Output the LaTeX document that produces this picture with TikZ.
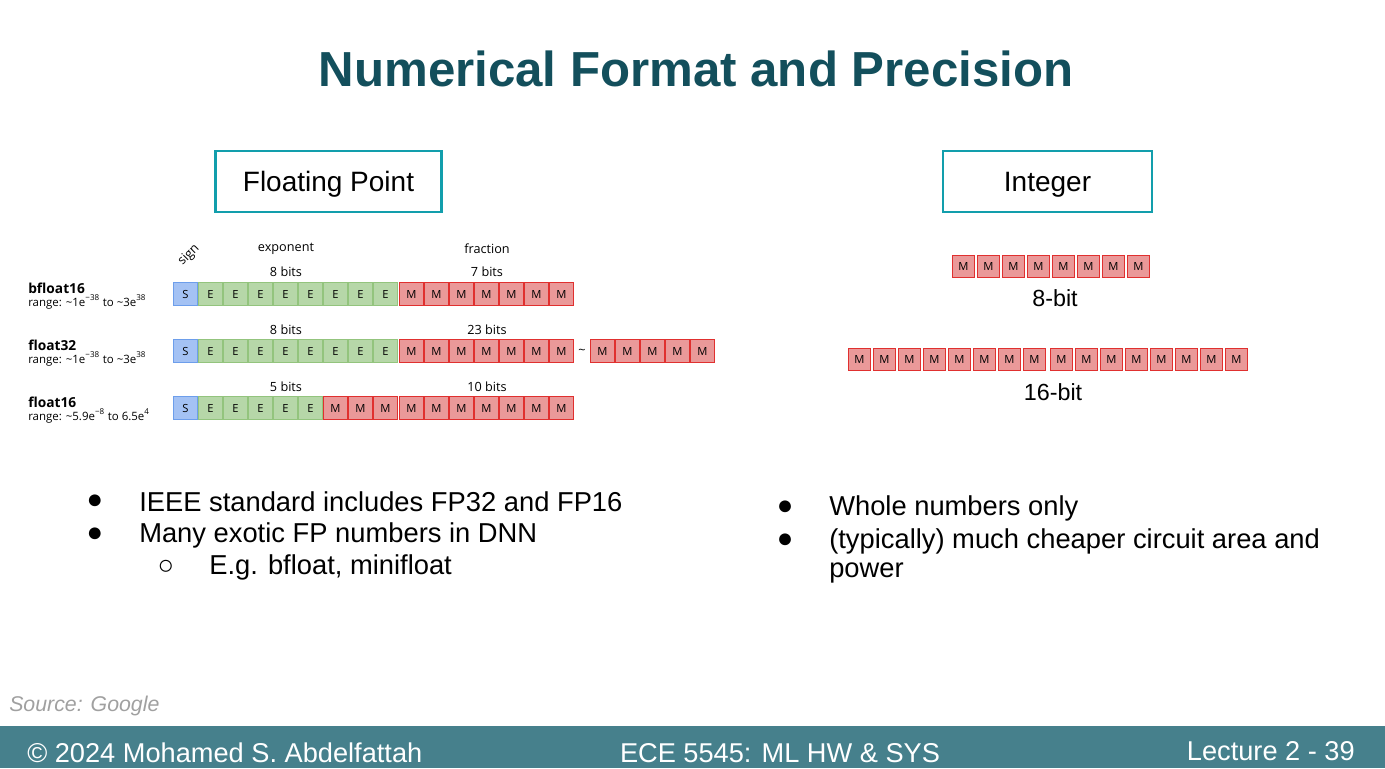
\documentclass[tikz,border=0pt]{standalone}
\usepackage{fontspec}
\setmainfont{Liberation Sans}
\newfontfamily\gsans{Open Sans}
\usetikzlibrary{positioning}
\definecolor{slidetitle}{HTML}{134F5C}
\definecolor{slideframe}{HTML}{129EAC}
\definecolor{slidebar}{HTML}{46808C}
\definecolor{slidesource}{HTML}{A0A0A0}
\definecolor{signfill}{HTML}{A4C2F4}
\definecolor{signline}{HTML}{6D9EEB}
\definecolor{expfill}{HTML}{B6D7A8}
\definecolor{expline}{HTML}{93C47D}
\definecolor{manfill}{HTML}{EA9999}
\definecolor{manline}{HTML}{E0302F}
\newcommand{\bitsup}[1]{\textsuperscript{#1}}
\newcommand{\bitneg}{\char"2212\relax}

\begin{document}
\begin{tikzpicture}[
  x=0.75pt,
  y=-0.75pt,
  every node/.style={inner sep=0pt},
  titletext/.style={font=\fontsize{36.9}{40}\selectfont\bfseries, slidetitle},
  headbox/.style={draw=slideframe, line width=2.2pt, font=\fontsize{21}{24}\selectfont,
    minimum height=45.75pt, text height=15pt, text depth=0pt},
  bitbox/.style={minimum width=17.5pt, minimum height=17.5pt, line width=0.6pt,
    font=\gsans\fontsize{8.4}{9}\selectfont},
  sbit/.style={bitbox, draw=signline, fill=signfill},
  ebit/.style={bitbox, draw=expline, fill=expfill},
  mbit/.style={bitbox, draw=manline, fill=manfill},
  ibit/.style={mbit, minimum width=17pt, minimum height=16.5pt},
  fieldtext/.style={font=\gsans\fontsize{9.5}{11}\selectfont},
  fmtname/.style={anchor=west, font=\gsans\bfseries\fontsize{10.3}{12}\selectfont},
  fmtrange/.style={anchor=west, font=\gsans\fontsize{8.6}{10}\selectfont},
  widthtext/.style={font=\fontsize{17.5}{20}\selectfont},
  bullet/.style={font=\fontsize{20.5}{24}\selectfont},
  itemtext/.style={anchor=west, font=\fontsize{20.5}{24}\selectfont},
  foottext/.style={white, font=\fontsize{20.4}{24}\selectfont}
]
  \useasboundingbox (0,0) rectangle (1385,768);

  % ---- title -----------------------------------------------------------
  \node[titletext] (title) at (696,69) {Numerical Format and Precision};

  % ---- the two headings ------------------------------------------------
  \node[headbox, minimum width=170pt] (fphead) at (328.5,181.5) {Floating Point};
  \node[headbox, minimum width=156.75pt] (inthead) at (1047.5,181.5) {Integer};

  % ---- field captions --------------------------------------------------
  \node[fieldtext, rotate=45] (signcap) at (189,255) {sign};
  \node[fieldtext] (expcap) at (286,249) {exponent};
  \node[fieldtext] (fraccap) at (487,249) {fraction};

  % ---- bfloat16 --------------------------------------------------------
  \node[fmtname] (bfname) at (28,288) {bfloat16};
  \node[fmtrange] (bfrange) at (28,302)
    {range: \textasciitilde1e\bitsup{\bitneg38} to \textasciitilde3e\bitsup{38}};
  \node[fieldtext] (bfexpw) at (286,272) {8 bits};
  \node[fieldtext] (bffracw) at (487,272) {7 bits};
  \node[sbit] (bf-s) at (185.5,294) {S};
  \foreach \i in {1,...,8}
    \node[ebit] (bf-e\i) at ({185.5+25*\i},294) {E};
  \foreach \j in {1,...,7}
    \node[mbit] (bf-m\j) at ({386.5+25*\j},294) {M};

  % ---- float32 ---------------------------------------------------------
  \node[fmtname] (fsname) at (28,345) {float32};
  \node[fmtrange] (fsrange) at (28,359)
    {range: \textasciitilde1e\bitsup{\bitneg38} to \textasciitilde3e\bitsup{38}};
  \node[fieldtext] (fsexpw) at (286,330) {8 bits};
  \node[fieldtext] (fsfracw) at (487,330) {23 bits};
  \node[sbit] (fs-s) at (185.5,351) {S};
  \foreach \i in {1,...,8}
    \node[ebit] (fs-e\i) at ({185.5+25*\i},351) {E};
  \foreach \j in {1,...,7}
    \node[mbit] (fs-m\j) at ({386.5+25*\j},351) {M};
  \node[fieldtext] (fsgap) at (582,352) {\textasciitilde};
  \foreach \k in {1,...,5}
    \node[mbit] (fs-t\k) at ({577.5+25*\k},351) {M};

  % ---- float16 ---------------------------------------------------------
  \node[fmtname] (fhname) at (28,402) {float16};
  \node[fmtrange] (fhrange) at (28,416)
    {range: \textasciitilde5.9e\bitsup{\bitneg8} to 6.5e\bitsup{4}};
  \node[fieldtext] (fhexpw) at (286,387) {5 bits};
  \node[fieldtext] (fhfracw) at (487,387) {10 bits};
  \node[sbit] (fh-s) at (185.5,408) {S};
  \foreach \i in {1,...,5}
    \node[ebit] (fh-e\i) at ({185.5+25*\i},408) {E};
  \foreach \j in {1,...,3}
    \node[mbit] (fh-m\j) at ({310.5+25*\j},408) {M};
  \foreach \j in {4,...,10}
    \node[mbit] (fh-m\j) at ({311.5+25*\j},408) {M};

  % ---- integers --------------------------------------------------------
  \foreach \i in {1,...,8}
    \node[ibit] (ib-\i) at ({938.5+25*\i},266) {M};
  \node[widthtext] (ibw) at (1055,298) {8-bit};
  \foreach \i in {1,...,8}
    \node[ibit] (iw-\i) at ({834.5+25*\i},359.5) {M};
  \foreach \i in {9,...,16}
    \node[ibit] (iw-\i) at ({836.5+25*\i},359.5) {M};
  \node[widthtext] (iww) at (1053,392) {16-bit};

  % ---- bullet points ---------------------------------------------------
  \node[bullet] (lb1) at (95,502) {●};
  \node[itemtext] (lt1) at (139,502) {IEEE standard includes FP32 and FP16};
  \node[bullet] (lb2) at (95,535) {●};
  \node[itemtext] (lt2) at (139,535) {Many exotic FP numbers in DNN};
  \node[bullet] (lb3) at (166,567) {○};
  \node[itemtext] (lt3) at (209,567) {E.g. bfloat, minifloat};
  \node[bullet] (rb1) at (785,508) {●};
  \node[itemtext] (rt1) at (829,508) {Whole numbers only};
  \node[bullet] (rb2) at (785,541) {●};
  \node[itemtext] (rt2) at (829,541) {(typically) much cheaper circuit area and};
  \node[itemtext] (rt3) at (829,573) {power};

  % ---- source and footer -----------------------------------------------
  \node[anchor=west, slidesource, font=\itshape\fontsize{16}{19}\selectfont]
    (source) at (9,706) {Source: Google};
  \fill[slidebar] (0,726) rectangle (1385,768);
  \node[foottext, anchor=west] (author) at (27,753) {© 2024 Mohamed S. Abdelfattah};
  \node[foottext] (course) at (780,753) {ECE 5545: ML HW \& SYS};
  \node[foottext, anchor=east] (lecture) at (1355,751) {Lecture 2 - 39};
\end{tikzpicture}
\end{document}
